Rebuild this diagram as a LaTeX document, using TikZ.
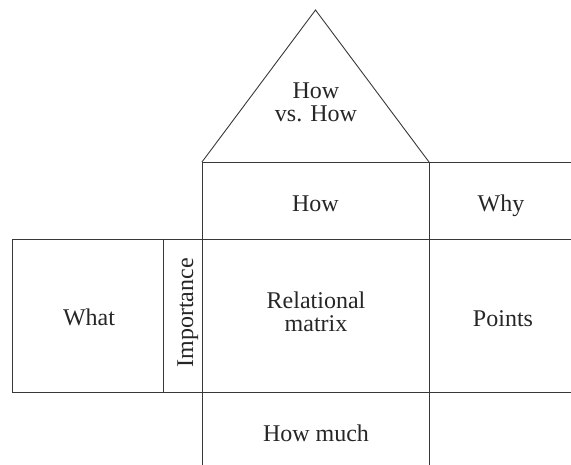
\documentclass[tikz,border=0pt]{standalone}
\usepackage{fontspec}
\setmainfont{Liberation Serif}
\begin{document}
\begin{tikzpicture}[x=1pt,y=-1pt,
  rule/.style={draw=black!78,line width=0.9pt},
  lbl/.style={font=\fontsize{24}{23}\selectfont,inner sep=0pt,text=black!85},
  lbltwo/.style={lbl,align=center}]
\useasboundingbox (0,0) rectangle (571,465);
% outline
\draw[rule] (202,162) -- (315.5,10) -- (429,162);
\draw[rule] (202,162) -- (571,162);
\draw[rule] (12,239) -- (571,239);
\draw[rule] (12,392) -- (571,392);
\draw[rule] (12,239) -- (12,392);
\draw[rule] (163,239) -- (163,392);
\draw[rule] (202,162) -- (202,465);
\draw[rule] (429,162) -- (429,465);
% labels
\node[lbltwo] (roof) at (316,102.5) {How\\vs. How};
\node[lbl,anchor=base] (how) at (315.5,212) {How};
\node[lbl,anchor=base] (why) at (501,212) {Why};
\node[lbl,anchor=base] (what) at (89,326) {What};
\node[lbl,anchor=base,rotate=90] (imp) at (193,313) {Importance};
\node[lbltwo] (rel) at (316,311.8) {Relational\\matrix};
\node[lbl,anchor=base] (pts) at (503,327) {Points};
\node[lbl,anchor=base] (much) at (316,441) {How much};
\end{tikzpicture}
\end{document}
